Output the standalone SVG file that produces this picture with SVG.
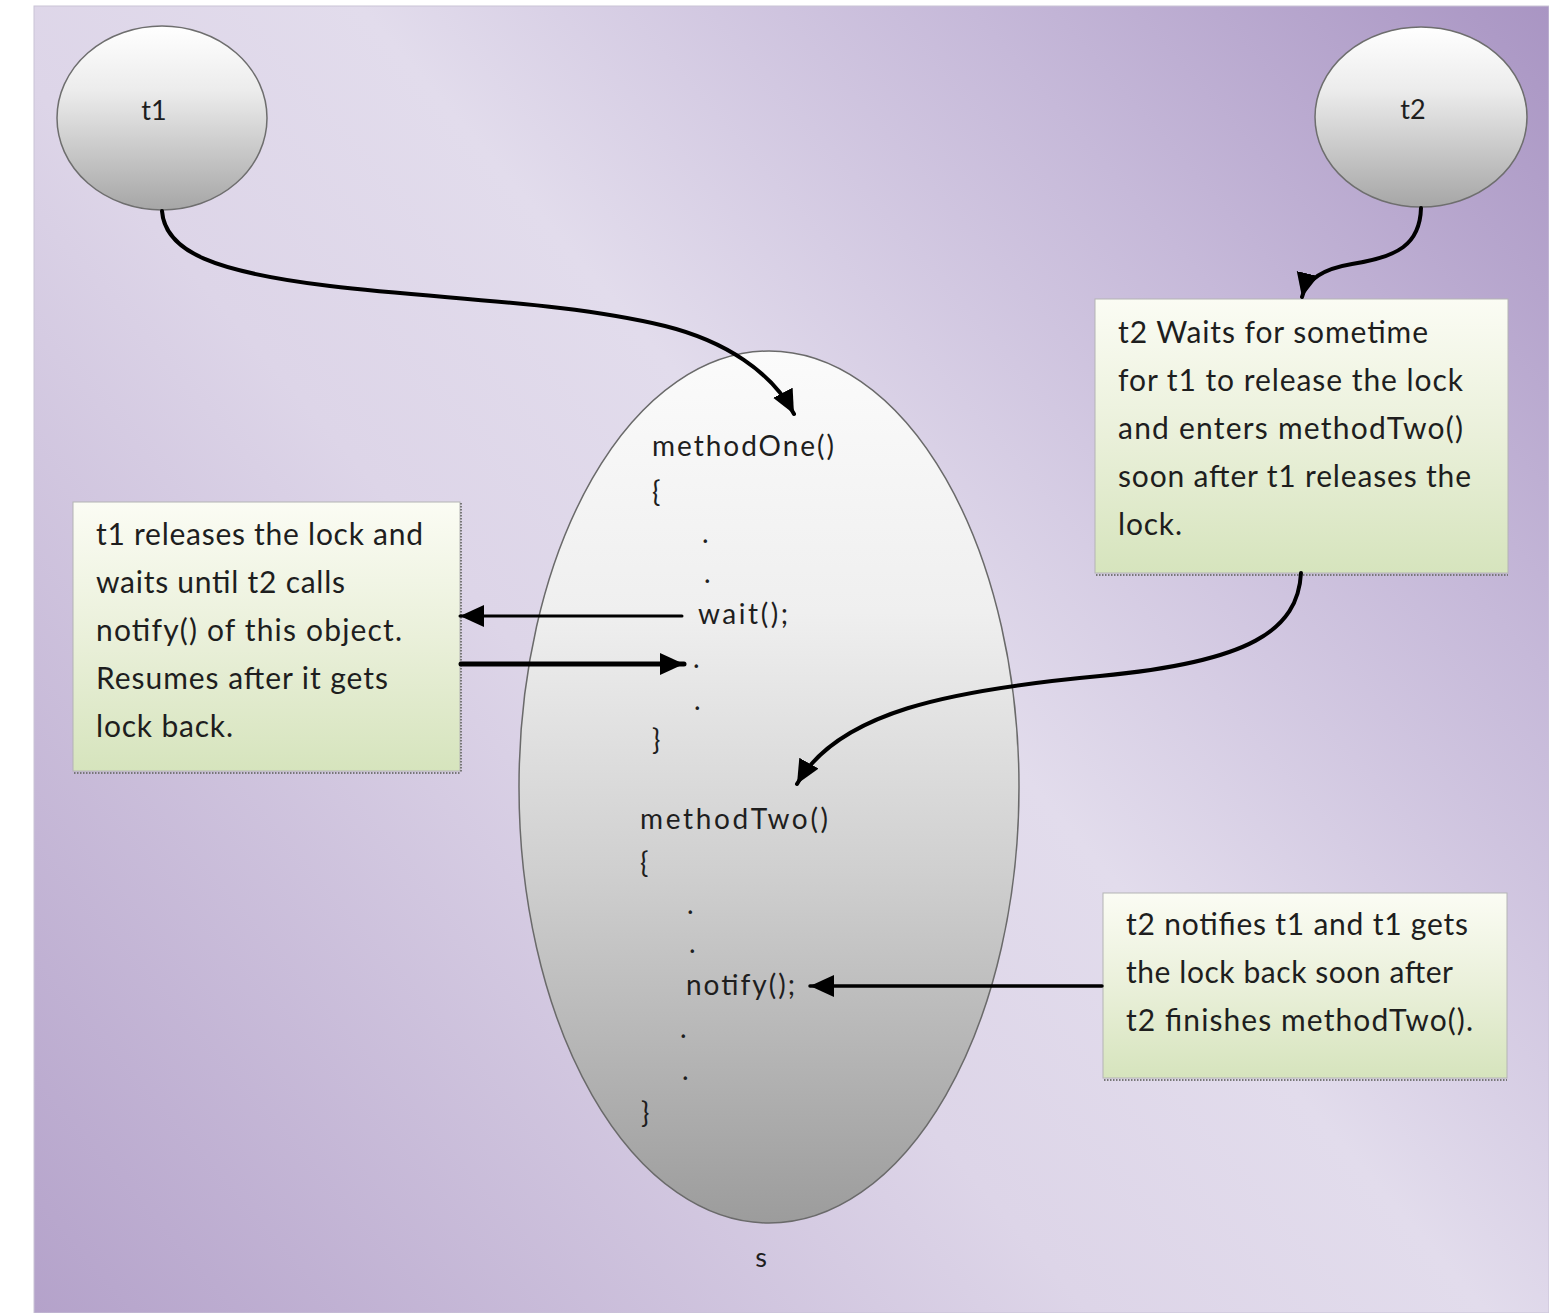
<svg xmlns="http://www.w3.org/2000/svg" width="1549" height="1313" viewBox="0 0 1549 1313">
  <defs>
    <linearGradient id="bg" gradientUnits="userSpaceOnUse" x1="1549" y1="6" x2="34" y2="1313">
      <stop offset="0" stop-color="#a995c3"/>
      <stop offset="0.22" stop-color="#c6b9d9"/>
      <stop offset="0.45" stop-color="#e2dcec"/>
      <stop offset="0.6" stop-color="#ddd5e8"/>
      <stop offset="1" stop-color="#b4a2ca"/>
    </linearGradient>
    <linearGradient id="ball" x1="0" y1="0" x2="0" y2="1">
      <stop offset="0" stop-color="#ffffff"/>
      <stop offset="0.35" stop-color="#ececec"/>
      <stop offset="1" stop-color="#a6a6a6"/>
    </linearGradient>
    <linearGradient id="obj" x1="0" y1="0" x2="0" y2="1">
      <stop offset="0" stop-color="#fbfbfb"/>
      <stop offset="0.3" stop-color="#efefef"/>
      <stop offset="0.6" stop-color="#cfcfcf"/>
      <stop offset="1" stop-color="#9c9c9c"/>
    </linearGradient>
    <linearGradient id="note" x1="0" y1="0" x2="0" y2="1">
      <stop offset="0" stop-color="#fbfcf4"/>
      <stop offset="0.5" stop-color="#eaf0da"/>
      <stop offset="1" stop-color="#d6e4bd"/>
    </linearGradient>
    <marker id="head" markerUnits="userSpaceOnUse" markerWidth="30" markerHeight="26" refX="24" refY="11" orient="auto">
      <path d="M0,0 L24,11 L0,22 Z" fill="#000"/>
    </marker>
  </defs>
  <style>
    .txt { font-family: Lato, "Open Sans", "Liberation Sans", sans-serif; fill: #1e1e1e; }
    .note-text { font-size: 30px; }
    .code { font-size: 28px; }
    .ball { fill: url(#ball); stroke: #6e6e6e; stroke-width: 1.5; }
    .note { fill: url(#note); stroke: #b4b4b4; stroke-width: 1; }
    .shadow { stroke: #777; stroke-width: 2; stroke-dasharray: 1.5 1.5; fill: none; }
    .conn { fill: none; stroke: #000; stroke-linecap: round; }
  </style>

  <!-- page background -->
  <rect x="0" y="0" width="1549" height="1313" fill="#ffffff"/>
  <rect x="34" y="6" width="1515" height="1307" fill="url(#bg)" stroke="#c9c3d6" stroke-width="1"/>

  <!-- thread t1 -->
  <g id="t1">
    <ellipse class="ball" cx="162" cy="118" rx="105" ry="92"/>
    <text class="txt" x="154" y="120" font-size="27" text-anchor="middle">t1</text>
  </g>

  <!-- thread t2 -->
  <g id="t2">
    <ellipse class="ball" cx="1421" cy="117" rx="106" ry="90"/>
    <text class="txt" x="1413" y="119" font-size="27" text-anchor="middle">t2</text>
  </g>

  <!-- shared object s -->
  <g id="s">
    <ellipse cx="769" cy="787" rx="250" ry="436" fill="url(#obj)" stroke="#6a6a6a" stroke-width="1.5"/>
    <g class="txt code">
      <text x="652" y="456" textLength="182">methodOne()</text>
      <text x="652" y="502">{</text>
      <text x="702" y="543">.</text>
      <text x="704" y="583">.</text>
      <text x="698" y="624" textLength="90">wait();</text>
      <text x="693" y="668">.</text>
      <text x="694" y="710">.</text>
      <text x="652" y="750">}</text>
      <text x="640" y="829" textLength="188">methodTwo()</text>
      <text x="640" y="873">{</text>
      <text x="687" y="914">.</text>
      <text x="689" y="953">.</text>
      <text x="686" y="995" textLength="109">notify();</text>
      <text x="680" y="1038">.</text>
      <text x="682" y="1080">.</text>
      <text x="641" y="1123">}</text>
    </g>
    <text class="txt" x="761" y="1267" font-size="27" text-anchor="middle">s</text>
  </g>

  <!-- note about wait() -->
  <g id="note-wait">
    <rect class="note" x="73" y="502" width="387" height="269"/>
    <line class="shadow" x1="74" y1="773" x2="461" y2="773"/>
    <line class="shadow" x1="461" y1="503" x2="461" y2="772"/>
    <g class="txt note-text">
      <text x="96" y="545" textLength="327">t1 releases the lock and</text>
      <text x="96" y="593" textLength="249">waits until t2 calls</text>
      <text x="96" y="641" textLength="306">notify() of  this object.</text>
      <text x="96" y="689" textLength="292">Resumes after it gets</text>
      <text x="96" y="737" textLength="137">lock back.</text>
    </g>
  </g>

  <!-- note about t2 waiting -->
  <g id="note-t2-wait">
    <rect class="note" x="1095" y="299" width="413" height="274"/>
    <line class="shadow" x1="1096" y1="575" x2="1508" y2="575"/>
    <g class="txt note-text">
      <text x="1118" y="343" textLength="310">t2 Waits for sometime</text>
      <text x="1118" y="391" textLength="345">for  t1 to release the lock</text>
      <text x="1118" y="439" textLength="345">and enters methodTwo()</text>
      <text x="1118" y="487" textLength="353">soon after t1 releases the</text>
      <text x="1118" y="535" textLength="64">lock.</text>
    </g>
  </g>

  <!-- note about notify() -->
  <g id="note-notify">
    <rect class="note" x="1103" y="893" width="404" height="185"/>
    <line class="shadow" x1="1104" y1="1080" x2="1507" y2="1080"/>
    <g class="txt note-text">
      <text x="1126" y="935" textLength="342">t2 notifies t1 and t1 gets</text>
      <text x="1126" y="983" textLength="327">the lock back soon after</text>
      <text x="1126" y="1031" textLength="347">t2 finishes methodTwo().</text>
    </g>
  </g>

  <!-- connectors -->
  <g id="connectors">
    <path class="conn" stroke-width="4" marker-end="url(#head)"
          d="M162,211 C165,252 215,272 330,286 C450,300 565,302 665,326 C725,341 772,372 794,414"/>
    <path class="conn" stroke-width="4" marker-end="url(#head)"
          d="M1421,208 C1420,245 1397,257 1352,264 C1322,269 1306,280 1302,297"/>
    <path class="conn" stroke-width="4" marker-end="url(#head)"
          d="M1301,573 C1298,630 1250,662 1100,676 C950,690 838,712 797,784"/>
    <line class="conn" stroke-width="3" marker-end="url(#head)" x1="682" y1="616" x2="460" y2="616"/>
    <line class="conn" stroke-width="5" marker-end="url(#head)" x1="461" y1="664" x2="684" y2="664"/>
    <line class="conn" stroke-width="3.5" marker-end="url(#head)" x1="1102" y1="986" x2="810" y2="986"/>
  </g>
</svg>
